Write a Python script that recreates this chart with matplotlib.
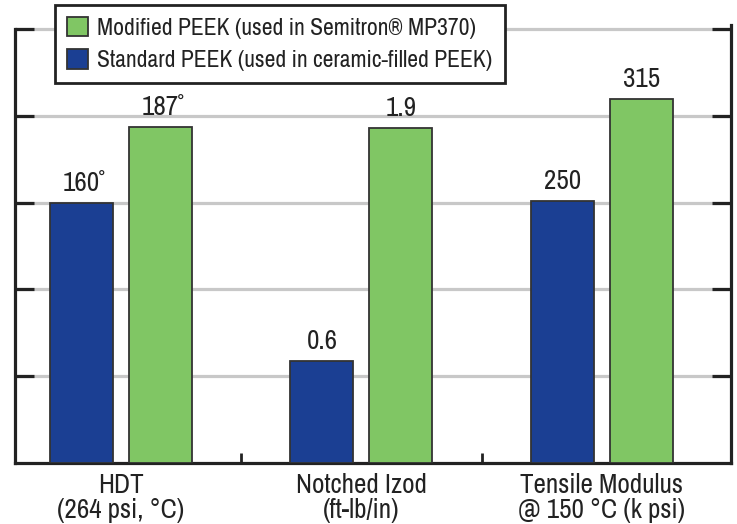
import matplotlib
matplotlib.use("Agg")
import matplotlib.pyplot as plt

plt.rcParams['font.family'] = ['Archivo Narrow', 'DejaVu Sans']
plt.rcParams['font.weight'] = 'semibold'

# Categories and bar data (chart is not to a common scale, heights read in grid units)
categories = ['HDT\n(264 psi, \u00b0C)', 'Notched Izod\n(ft-lb/in)', 'Tensile Modulus\n@ 150 \u00b0C (k psi)']
standard_heights = [3.0, 1.18, 3.02]
modified_heights = [3.87, 3.86, 4.19]
standard_labels = ['160\u02da', '0.6', '250']
modified_labels = ['187\u02da', '1.9', '315']

blue = '#1b3f93'
green = '#80c664'

fig = plt.figure(figsize=(7.37, 5.24), dpi=100)
ax = fig.add_axes([15/737, 61/524, 716/737, (463-24.6)/524])

x = list(range(len(categories)))
w = 0.262
off = 0.164
b1 = ax.bar([i - off for i in x], standard_heights, w, color=blue, edgecolor='#333333', linewidth=1.3,
            label='Standard PEEK (used in ceramic-filled PEEK)', zorder=3)
b2 = ax.bar([i + off for i in x], modified_heights, w, color=green, edgecolor='#333333', linewidth=1.3,
            label='Modified PEEK (used in Semitron\u00ae MP370)', zorder=3)

for bar, lab in zip(b1, standard_labels):
    ax.annotate(lab, (bar.get_x() + bar.get_width()/2, bar.get_height()), xytext=(0, 5),
                textcoords='offset points', ha='center', va='bottom', fontsize=19.5, color='#222222')
for bar, lab in zip(b2, modified_labels):
    ax.annotate(lab, (bar.get_x() + bar.get_width()/2, bar.get_height()), xytext=(0, 5),
                textcoords='offset points', ha='center', va='bottom', fontsize=19.5, color='#222222')

ax.set_xlim(-0.441, 2.538)
ax.set_ylim(0, 5.05)

ax.set_yticks([1, 2, 3, 4, 5])
ax.set_yticklabels([])
ax.yaxis.grid(True, color='#c8c8c8', linewidth=2.3)
ax.set_axisbelow(True)
ax.tick_params(axis='y', direction='in', length=14, width=2.3, color='#222222', left=True, right=True)

ax.set_xticks([0.5, 1.5])
ax.set_xticklabels([])
ax.set_xticks(x, categories, minor=True)
ax.tick_params(axis='x', which='major', direction='in', length=7.5, width=2, color='#222222')
ax.tick_params(axis='x', which='minor', length=0, pad=7, labelsize=19.5, labelcolor='#222222')
for t in ax.get_xticklabels(minor=True):
    t.set_linespacing(1.03)

for s in ['left', 'right', 'bottom']:
    ax.spines[s].set_linewidth(2.3)
    ax.spines[s].set_color('#222222')
ax.spines['left'].set_bounds(0, 5)
ax.spines['right'].set_bounds(0, 5.05)
ax.spines['top'].set_visible(False)

leg = fig.legend(handles=[b2, b1], loc='upper left', bbox_to_anchor=(55/737, 1 - 5/524),
                 fontsize=17, frameon=True, fancybox=False, borderpad=0.5, handlelength=0.9,
                 handleheight=0.9, handletextpad=0.4, labelspacing=0.45, borderaxespad=0)
leg.get_frame().set_edgecolor('#222222')
leg.get_frame().set_linewidth(2)
leg.get_frame().set_alpha(1)
for t in leg.get_texts():
    t.set_color('#222222')

fig.savefig('out.png', dpi=100)
